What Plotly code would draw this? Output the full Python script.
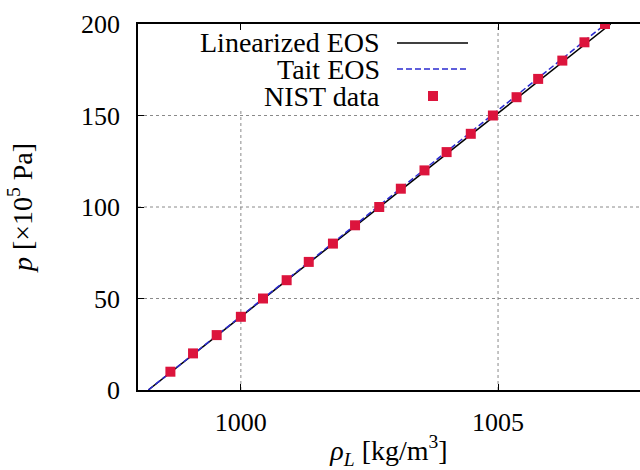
import plotly.graph_objects as go

# ---- data ----
nist_p = [10, 20, 30, 40, 50, 60, 70, 80, 90, 100,
          110, 120, 130, 140, 150, 160, 170, 180, 190, 200]
nist_rho = [998.63, 999.07, 999.53, 1000.00, 1000.43, 1000.89, 1001.32, 1001.79, 1002.22, 1002.69,
            1003.11, 1003.57, 1004.00, 1004.47, 1004.90, 1005.36, 1005.78, 1006.25, 1006.68, 1007.08]

lin_p = [0, 200]
lin_rho = [998.20, 1007.19]

tait_p = [0, 20, 40, 60, 80, 100, 120, 140, 160, 180, 200]
tait_rho = [998.20, 999.10, 999.99, 1000.88, 1001.77, 1002.66, 1003.55, 1004.44, 1005.33, 1006.21, 1007.09]

x_ticks = [1000, 1005]
y_ticks = [0, 50, 100, 150, 200]
x_grid = [1000, 1005]
y_grid = [50, 100, 150]

legend_labels = ["Linearized EOS", "Tait EOS", "NIST data"]

FONT = "Liberation Serif"
FS = 26
BLUE = "#2a2ad0"
RED = "#dc143c"
GRID = dict(color="#8a8a8a", width=1, dash="dot")
TAIT_DASH = "6px,3px"

fig = go.Figure()
fig.add_trace(go.Scatter(x=lin_rho, y=lin_p, mode="lines",
                         line=dict(color="black", width=1.5), name=legend_labels[0], showlegend=False))
fig.add_trace(go.Scatter(x=tait_rho, y=tait_p, mode="lines",
                         line=dict(color=BLUE, width=1.5, dash=TAIT_DASH), name=legend_labels[1], showlegend=False))
fig.add_trace(go.Scatter(x=nist_rho, y=nist_p, mode="markers",
                         marker=dict(symbol="square", size=10, color=RED), name=legend_labels[2], showlegend=False))

# grid lines as shapes (so the legend box can hide part of them)
for gx in x_grid:
    fig.add_shape(type="line", xref="x", yref="y domain", x0=gx, x1=gx, y0=0, y1=1,
                  line=GRID, layer="below")
for gy in y_grid:
    fig.add_shape(type="line", xref="x domain", yref="y", x0=0, x1=1, y0=gy, y1=gy,
                  line=GRID, layer="below")

PW = 640 - 138
PH = 390 - 24
def fx(px):
    return (px - 138) / PW
def fy(py):
    return 1 - (py - 24) / PH

fig.add_shape(type="rect", xref="x domain", yref="y domain",
              x0=fx(190), x1=fx(480), y0=fy(110), y1=fy(24.5),
              fillcolor="white", line=dict(width=0), layer="below")
rows = [43, 69, 96]
for lab, ry in zip(legend_labels, rows):
    fig.add_annotation(text=lab, xref="x domain", yref="y domain", x=fx(381), y=fy(ry),
                       xanchor="right", yanchor="middle", showarrow=False, borderpad=0,
                       font=dict(family=FONT, size=28, color="black"))
fig.add_shape(type="line", xref="x domain", yref="y domain", x0=fx(397), x1=fx(468),
              y0=fy(rows[0]), y1=fy(rows[0]), line=dict(color="black", width=1.5))
fig.add_shape(type="line", xref="x domain", yref="y domain", x0=fx(397), x1=fx(468),
              y0=fy(rows[1]), y1=fy(rows[1]), line=dict(color=BLUE, width=1.5, dash=TAIT_DASH))
fig.add_shape(type="rect", xref="x domain", yref="y domain", x0=fx(428), x1=fx(438),
              y0=fy(rows[2] + 5), y1=fy(rows[2] - 5), fillcolor=RED, line=dict(width=0))

fig.update_layout(
    width=640, height=470,
    margin=dict(l=138, r=0, t=24, b=80),
    paper_bgcolor="white", plot_bgcolor="white",
    font=dict(family=FONT, size=FS, color="black"),
    xaxis=dict(range=[998.0, 1007.76], tickvals=x_ticks, ticks="inside", ticklen=6,
               tickcolor="black", showline=True, linecolor="black", linewidth=1.5,
               mirror="ticks", showgrid=False, zeroline=False, ticklabelstandoff=8,
               tickfont=dict(family=FONT, size=FS, color="black"),
               title=dict(text="<i>ρ</i><sub><i>L</i></sub> [kg/m<sup>3</sup>]", standoff=14,
                          font=dict(family=FONT, size=28, color="black"))),
    yaxis=dict(range=[0, 200], tickvals=y_ticks, ticks="inside", ticklen=6,
               tickcolor="black", showline=True, linecolor="black", linewidth=1.5,
               mirror=False, showgrid=False, zeroline=False, ticklabelstandoff=11,
               tickfont=dict(family=FONT, size=FS, color="black"),
               title=dict(text="<i>p</i> [×10<sup>5</sup> Pa]", standoff=40,
                          font=dict(family=FONT, size=28, color="black"))),
)

fig.write_html("out.html")
